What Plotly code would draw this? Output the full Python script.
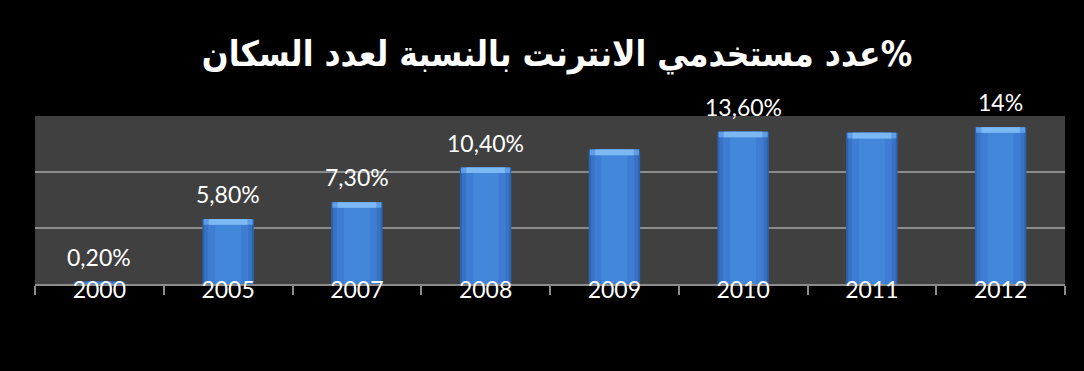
import plotly.graph_objects as go

years = ["2000", "2005", "2007", "2008", "2009", "2010", "2011", "2012"]
users_pct = [0.2, 5.8, 7.3, 10.4, 12.0, 13.6, 13.5, 14.0]
value_labels = ["0,20%", "5,80%", "7,30%", "10,40%", "", "13,60%", "", "14%"]
title_text = "عدد مستخدمي الانترنت بالنسبة لعدد السكان%"

fig = go.Figure()

# layered bars to imitate the bevelled blue gradient
layers = [
    (0.40, "#2d62ab"),
    (0.37, "#3772c4"),
    (0.31, "#3e7dd3"),
    (0.20, "#4387db"),
]
for w, c in layers:
    fig.add_trace(go.Bar(
        x=years, y=users_pct, width=[w] * len(years),
        marker=dict(color=c, line=dict(width=0)),
        hoverinfo="skip", showlegend=False,
    ))

# light top bevel
bevel = 0.5
fig.add_trace(go.Bar(
    x=years, y=[bevel if v > bevel else 0 for v in users_pct],
    base=[v - bevel if v > bevel else v for v in users_pct],
    width=[0.38] * len(years),
    marker=dict(color="#5f9ee6", line=dict(width=0)),
    hoverinfo="skip", showlegend=False,
))
fig.add_trace(go.Bar(
    x=years, y=[bevel if v > bevel else 0 for v in users_pct],
    base=[v - bevel if v > bevel else v for v in users_pct],
    width=[0.30] * len(years),
    marker=dict(color="#7cb8f2", line=dict(width=0)),
    hoverinfo="skip", showlegend=False,
))

for i, (v, t) in enumerate(zip(users_pct, value_labels)):
    if t:
        fig.add_annotation(
            x=i, y=v, text=t, showarrow=False,
            yanchor="middle", yshift=25,
            font=dict(family="Lato", size=23, color="white"),
        )

fig.update_layout(
    width=1084, height=371,
    barmode="overlay",
    paper_bgcolor="black",
    plot_bgcolor="#404040",
    margin=dict(l=35, r=19, t=116, b=87),
    title=dict(
        text=title_text,
        x=557 / 1084, xanchor="center", xref="container",
        y=1 - 54 / 371, yanchor="middle", yref="container",
        font=dict(family="DejaVu Sans Condensed, DejaVu Sans", size=35,
                  color="white", weight="bold"),
    ),
    xaxis=dict(
        type="category", range=[-0.5, len(years) - 0.5],
        categoryorder="array", categoryarray=years,
        showline=True, linecolor="#8c8c8c", linewidth=2,
        ticks="outside", tickson="boundaries", ticklen=9,
        tickcolor="#8c8c8c", tickwidth=2,
        ticklabelstandoff=-16,
        tickfont=dict(family="Lato", size=23, color="white"),
        showgrid=False,
    ),
    yaxis=dict(
        range=[0, 15], tickvals=[0, 5, 10, 15],
        showticklabels=False, showgrid=True,
        gridcolor="#8c8c8c", gridwidth=2, zeroline=False,
    ),
    bargap=0.6,
)

fig.write_html("out.html")
